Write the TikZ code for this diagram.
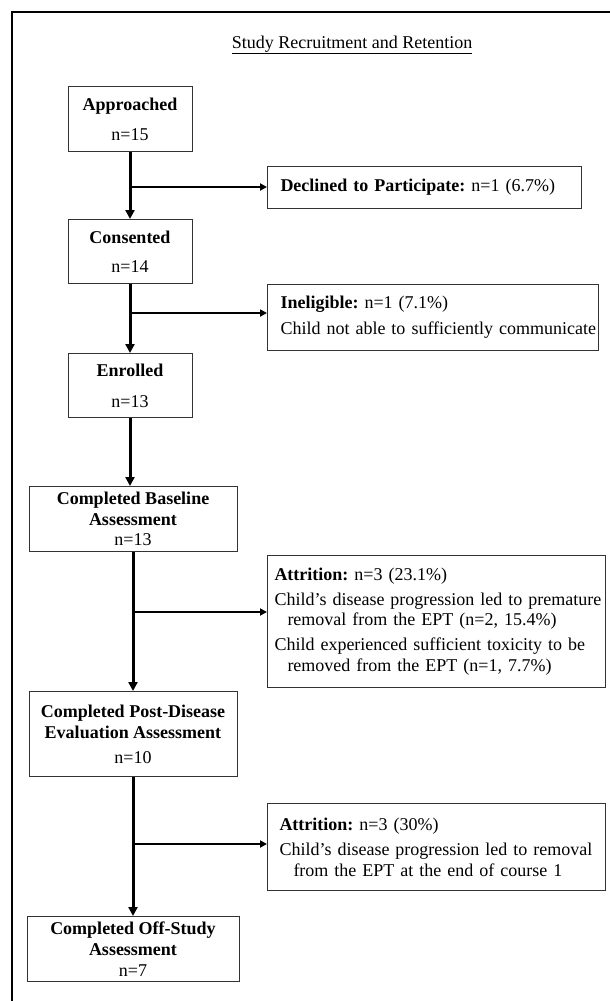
\documentclass[tikz,border=0pt]{standalone}
\usepackage{fontspec}
\setmainfont{Liberation Serif}
\usetikzlibrary{arrows.meta}
\frenchspacing
\begin{document}
\begin{tikzpicture}[x=1pt,y=-1pt,
  every node/.style={font=\fontsize{18}{20.7}\selectfont\frenchspacing, text=black},
  leftbox/.style={draw=black!80, line width=1pt, align=center, inner sep=0pt, anchor=north},
  rightbox/.style={draw=black!80, line width=1pt, align=left, anchor=north west, inner sep=0pt},
  mainarrow/.style={line width=3pt, -{Triangle[length=9pt,width=9pt]}},
  sidearrow/.style={line width=2pt, -{Triangle[length=7pt,width=7pt]}},
  frameline/.style={line width=1.3pt}
]
\fill[white] (0,0) rectangle (610,1001);
\useasboundingbox (0,0) rectangle (610,1001);

% frame
\coordinate (fbl) at (12,1001);
\coordinate (ftl) at (12,12);
\coordinate (ftr) at (610,12);
\draw[frameline] (fbl) -- (ftl) -- (ftr);

% title
\node[anchor=base] (title) at (352,48) {\underline{Study Recruitment and Retention}};

% main column
\node[leftbox, minimum width=124pt, minimum height=65pt] (appr) at (130,86)
  {\textbf{Approached}\\[9.3pt]n=15};
\node[leftbox, minimum width=124pt, minimum height=64pt] (cons) at (130,219)
  {\textbf{Consented}\\[8.3pt]n=14};
\node[leftbox, minimum width=124pt, minimum height=64pt] (enr) at (130,353)
  {\textbf{Enrolled}\\[10.3pt]n=13};
\node[leftbox, minimum width=208pt, minimum height=65pt] (base) at (133,486)
  {\textbf{Completed Baseline}\\\textbf{Assessment}\\n=13};
\node[leftbox, minimum width=208pt, minimum height=85pt] (post) at (133,691)
  {\textbf{Completed Post-Disease}\\\textbf{Evaluation Assessment}\\[4.3pt]n=10};
\node[leftbox, minimum width=212pt, minimum height=65pt] (off) at (133,916)
  {\textbf{Completed Off-Study}\\\textbf{Assessment}\\n=7};

% side boxes
\node[rightbox, minimum width=314pt, minimum height=42pt, text width=314pt] (decl) at (267,166)
  {\hspace*{13pt}\textbf{Declined to Participate:} n=1 (6.7\%)};
\node[rightbox, minimum width=331pt, minimum height=66pt, text width=331pt] (inel) at (267,284)
  {\hspace*{13pt}\textbf{Ineligible:} n=1 (7.1\%)\\[5.3pt]\hspace*{13pt}Child not able to sufficiently communicate};
\node[rightbox, minimum width=338pt, minimum height=132pt, text width=338pt] (attr1) at (267,555)
  {\hspace*{7pt}\textbf{Attrition:} n=3 (23.1\%)\\[4.3pt]%
   \hspace*{7pt}Child’s disease progression led to premature\\%
   \hspace*{20pt}removal from the EPT (n=2, 15.4\%)\\[4.3pt]%
   \hspace*{7pt}Child experienced sufficient toxicity to be\\%
   \hspace*{20pt}removed from the EPT (n=1, 7.7\%)};
\node[rightbox, minimum width=338pt, minimum height=87pt, text width=338pt] (attr2) at (267,803)
  {\hspace*{12pt}\textbf{Attrition:} n=3 (30\%)\\[4.3pt]%
   \hspace*{12pt}Child’s disease progression led to removal\\%
   \hspace*{26pt}from the EPT at the end of course 1};

% main connectors
\draw[mainarrow] (appr.south) -- (cons.north);
\draw[mainarrow] (cons.south) -- (enr.north);
\draw[mainarrow] (enr.south) -- (enr.south |- base.north);
\draw[mainarrow] (base.south) -- (post.north);
\draw[mainarrow] (post.south) -- (off.north);

% branches
\coordinate (b1) at (130,187);
\coordinate (b2) at (130,313);
\coordinate (b3) at (133,612);
\coordinate (b4) at (133,844);
\draw[sidearrow] (b1) -- (b1 -| decl.west);
\draw[sidearrow] (b2) -- (b2 -| inel.west);
\draw[sidearrow] (b3) -- (b3 -| attr1.west);
\draw[sidearrow] (b4) -- (b4 -| attr2.west);
\end{tikzpicture}
\end{document}
